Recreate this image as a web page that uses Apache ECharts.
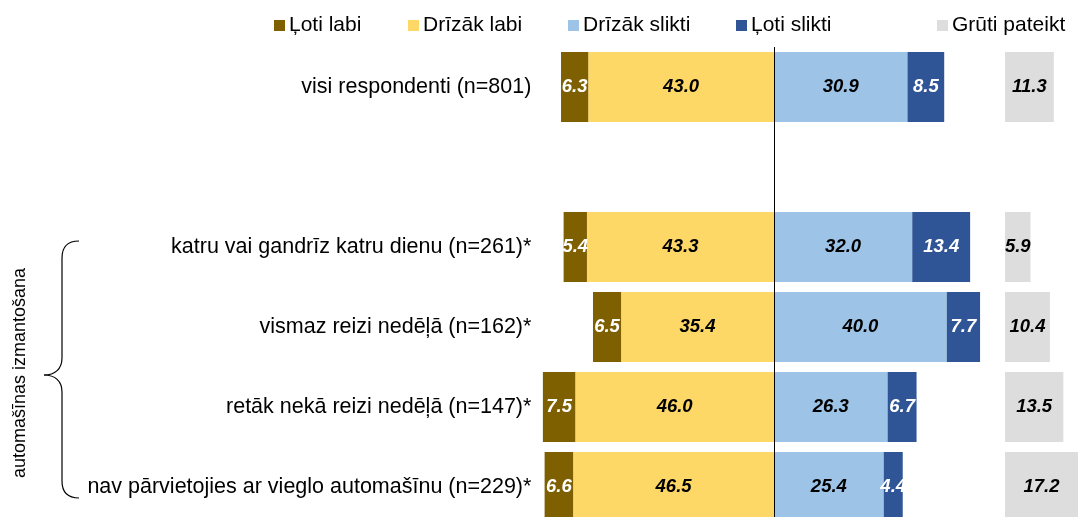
<!DOCTYPE html>
<html lang="lv">
<head>
    <meta charset="UTF-8">
    <title></title>
    <style>
        html, body {margin: 0; padding: 0; background: #fff;}
        #echart {width: 1078px; height: 517px;}
    </style>
</head>
<body>
<div id="echart"></div>
<script src="https://cdn.jsdelivr.net/npm/echarts@6/dist/echarts.min.js"></script>
<script type="text/javascript">
    // kategorijas (tukšā rinda ir atstarpe)
    var categories = [
        'visi respondenti (n=801)',
        '',
        'katru vai gandrīz katru dienu (n=261)*',
        'vismaz reizi nedēļā (n=162)*',
        'retāk nekā reizi nedēļā (n=147)*',
        'nav pārvietojies ar vieglo automašīnu (n=229)*'
    ];
    var lotiLabi = [6.3, null, 5.4, 6.5, 7.5, 6.6];
    var drizakLabi = [43.0, null, 43.3, 35.4, 46.0, 46.5];
    var drizakSlikti = [30.9, null, 32.0, 40.0, 26.3, 25.4];
    var lotiSlikti = [8.5, null, 13.4, 7.7, 6.7, 4.4];
    var grutiPateikt = [11.3, null, 5.9, 10.4, 13.5, 17.2];

    var font = '"Liberation Sans", Arial, sans-serif';

    function neg(arr) {
        return arr.map(function (v) { return v === null ? null : -v; });
    }

    function valLabel(color) {
        return {
            show: true,
            position: 'inside',
            color: color,
            fontFamily: font,
            fontSize: 18.5,
            fontWeight: 'bold',
            fontStyle: 'italic',
            formatter: function (p) {
                if (p.value === null || p.value === undefined) return '';
                return Math.abs(p.value).toFixed(1);
            }
        };
    }

    function legendAt(left, name) {
        return {
            left: left,
            top: 10,
            icon: 'rect',
            itemWidth: 11,
            itemHeight: 11,
            itemGap: 0,
            textStyle: {fontFamily: font, fontSize: 21, color: '#000', padding: [0, 0, 0, -1]},
            data: [name]
        };
    }

    // figūriekavas gabali
    var braceStyle = {stroke: '#000', lineWidth: 1.2, fill: null};
    function curve(x1, y1, cx1, cy1, cx2, cy2, x2, y2) {
        return {
            type: 'bezierCurve',
            shape: {x1: x1, y1: y1, cpx1: cx1, cpy1: cy1, cpx2: cx2, cpy2: cy2, x2: x2, y2: y2},
            style: braceStyle
        };
    }
    function seg(x1, y1, x2, y2) {
        return {type: 'line', shape: {x1: x1, y1: y1, x2: x2, y2: y2}, style: braceStyle};
    }

    var myChart = echarts.init(document.getElementById('echart'));

    var option = {
        animation: false,
        legend: [
            legendAt(269, 'Ļoti labi'),
            legendAt(403, 'Drīzāk labi'),
            legendAt(563, 'Drīzāk slikti'),
            legendAt(731, 'Ļoti slikti'),
            legendAt(932, 'Grūti pateikt')
        ],
        grid: [
            {left: 536.4, right: 88, top: 47, height: 480, outerBoundsMode: 'none'},
            {left: 1005, right: 0, top: 47, height: 480, outerBoundsMode: 'none'}
        ],
        xAxis: [
            {gridIndex: 0, type: 'value', min: -55, max: 50, show: false},
            {gridIndex: 1, type: 'value', min: 0, max: 73 / 4.32, show: false}
        ],
        yAxis: [
            {
                gridIndex: 0, type: 'category', inverse: true, data: categories,
                axisLine: {show: false}, axisTick: {show: false},
                axisLabel: {fontFamily: font, fontSize: 21.5, color: '#000', margin: 5}
            },
            {
                gridIndex: 1, type: 'category', inverse: true, data: categories,
                show: false
            }
        ],
        graphic: [
            curve(79, 241, 68, 241, 62, 247, 62, 258),
            seg(62, 258, 62, 358),
            curve(62, 358, 62, 369, 55, 375, 44, 375),
            curve(44, 375, 55, 375, 62, 381, 62, 392),
            seg(62, 392, 62, 481),
            curve(62, 481, 62, 492, 68, 498, 79, 498),
            {
                type: 'text',
                x: 20,
                y: 373,
                rotation: Math.PI / 2,
                style: {
                    text: 'automašīnas izmantošana',
                    fontFamily: font,
                    fontSize: 18,
                    fill: '#000',
                    align: 'center',
                    verticalAlign: 'middle'
                }
            }
        ],
        series: [
            {
                name: 'Drīzāk labi', type: 'bar', stack: 'a',
                xAxisIndex: 0, yAxisIndex: 0,
                barCategoryGap: '12.5%',
                itemStyle: {color: '#fdd866'},
                label: valLabel('#000'),
                data: neg(drizakLabi),
                markLine: {
                    silent: true,
                    symbol: 'none',
                    label: {show: false},
                    lineStyle: {color: '#000', width: 1, type: 'solid'},
                    data: [{xAxis: 0}]
                }
            },
            {
                name: 'Ļoti labi', type: 'bar', stack: 'a',
                xAxisIndex: 0, yAxisIndex: 0,
                itemStyle: {color: '#7f6000'},
                label: valLabel('#fff'),
                data: neg(lotiLabi)
            },
            {
                name: 'Drīzāk slikti', type: 'bar', stack: 'a',
                xAxisIndex: 0, yAxisIndex: 0,
                itemStyle: {color: '#9dc3e6'},
                label: valLabel('#000'),
                data: drizakSlikti
            },
            {
                name: 'Ļoti slikti', type: 'bar', stack: 'a',
                xAxisIndex: 0, yAxisIndex: 0,
                itemStyle: {color: '#2f5597'},
                label: valLabel('#fff'),
                data: lotiSlikti
            },
            {
                name: 'Grūti pateikt', type: 'bar',
                xAxisIndex: 1, yAxisIndex: 1,
                barCategoryGap: '12.5%',
                itemStyle: {color: '#dddddd'},
                label: valLabel('#000'),
                data: grutiPateikt
            }
        ]
    };

    myChart.setOption(option);
</script>
</body>
</html>
